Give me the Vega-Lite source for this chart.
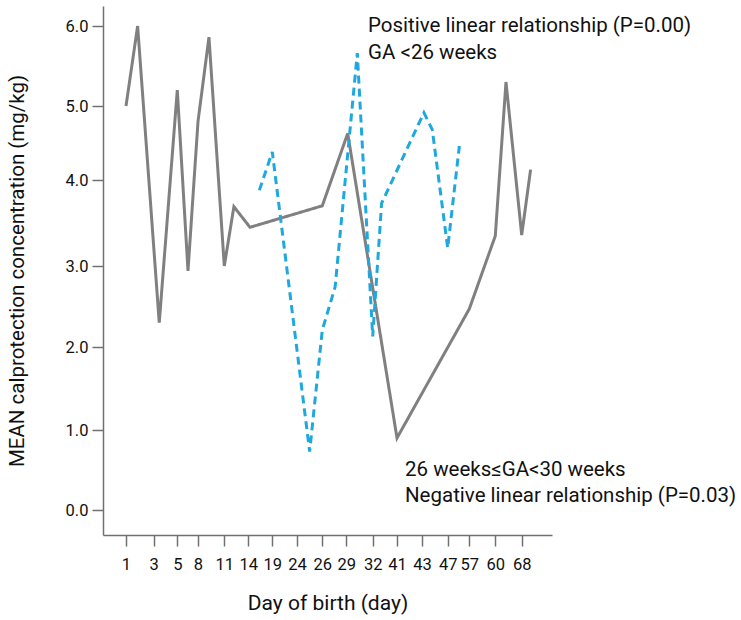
{
  "$schema": "https://vega.github.io/schema/vega-lite/v6.json",
  "width": 449,
  "height": 529,
  "autosize": {"type": "none"},
  "padding": {"left": 103, "top": 6, "right": 189, "bottom": 85},
  "config": {
    "view": {"stroke": null},
    "font": "Roboto",
    "axis": {"grid": false, "domainColor": "#707070", "tickColor": "#707070", "domainWidth": 1.5, "tickWidth": 1.5, "labelColor": "#111", "titleColor": "#111", "labelFont": "Roboto", "titleFont": "Roboto", "titleFontWeight": "normal"}
  },
  "datasets": {
    "series": [
      {"group": "26 weeks≤GA<30 weeks", "day": 1, "value": 5.0},
      {"group": "26 weeks≤GA<30 weeks", "day": 1.84, "value": 6.0},
      {"group": "26 weeks≤GA<30 weeks", "day": 3.47, "value": 2.3},
      {"group": "26 weeks≤GA<30 weeks", "day": 5.0, "value": 5.2},
      {"group": "26 weeks≤GA<30 weeks", "day": 6.55, "value": 2.94},
      {"group": "26 weeks≤GA<30 weeks", "day": 8, "value": 4.79},
      {"group": "26 weeks≤GA<30 weeks", "day": 9.25, "value": 5.86},
      {"group": "26 weeks≤GA<30 weeks", "day": 11, "value": 3.0},
      {"group": "26 weeks≤GA<30 weeks", "day": 12.2, "value": 3.69},
      {"group": "26 weeks≤GA<30 weeks", "day": 14.35, "value": 3.45},
      {"group": "26 weeks≤GA<30 weeks", "day": 26, "value": 3.7},
      {"group": "26 weeks≤GA<30 weeks", "day": 29.16, "value": 4.63},
      {"group": "26 weeks≤GA<30 weeks", "day": 41, "value": 0.9},
      {"group": "26 weeks≤GA<30 weeks", "day": 57, "value": 2.47},
      {"group": "26 weeks≤GA<30 weeks", "day": 60, "value": 3.35},
      {"group": "26 weeks≤GA<30 weeks", "day": 63.24, "value": 5.3},
      {"group": "26 weeks≤GA<30 weeks", "day": 68, "value": 3.36},
      {"group": "26 weeks≤GA<30 weeks", "day": 70.7, "value": 4.14},
      {"group": "GA <26 weeks", "day": 16.3, "value": 3.88},
      {"group": "GA <26 weeks", "day": 19, "value": 4.38},
      {"group": "GA <26 weeks", "day": 25, "value": 0.73},
      {"group": "GA <26 weeks", "day": 26, "value": 2.21},
      {"group": "GA <26 weeks", "day": 27.6, "value": 2.74},
      {"group": "GA <26 weeks", "day": 30.25, "value": 5.66},
      {"group": "GA <26 weeks", "day": 32, "value": 2.13},
      {"group": "GA <26 weeks", "day": 35.3, "value": 3.73},
      {"group": "GA <26 weeks", "day": 43.3, "value": 4.91},
      {"group": "GA <26 weeks", "day": 44.6, "value": 4.68},
      {"group": "GA <26 weeks", "day": 47, "value": 3.21},
      {"group": "GA <26 weeks", "day": 52.4, "value": 4.46}
    ],
    "notes": [
      {"day": 31.47, "value": 5.93, "label": "Positive linear relationship (P=0.00)"},
      {"day": 31.47, "value": 5.59, "label": "GA <26 weeks"},
      {"day": 41.64, "value": 0.42, "label": "26 weeks≤GA<30 weeks"},
      {"day": 41.64, "value": 0.1, "label": "Negative linear relationship (P=0.03)"}
    ]
  },
  "layer": [
    {
      "data": {"name": "series"},
      "mark": {"type": "line", "strokeWidth": 3},
      "encoding": {
        "x": {
          "field": "day", "type": "quantitative",
          "scale": {"domain": [-0.66, 1, 3, 5, 8, 11, 14, 19, 24, 26, 29, 32, 41, 43, 47, 57, 60, 68, 77.2], "range": [0, 23, 50.7, 74.3, 95, 121.3, 145.3, 169.3, 194, 219.3, 243.3, 269.7, 294, 319, 344.7, 366.3, 392.3, 418.7, 449], "nice": false, "zero": false},
          "axis": {"values": [1, 3, 5, 8, 11, 14, 19, 24, 26, 29, 32, 41, 43, 47, 57, 60, 68], "tickCount": 40, "format": "d", "title": "Day of birth (day)", "tickSize": 11, "labelPadding": 10, "labelFontSize": 16.5, "titleFontSize": 21, "titlePadding": 20, "labelOverlap": false}
        },
        "y": {
          "field": "value", "type": "quantitative",
          "scale": {"domain": [-0.3125, 0, 1, 2, 3, 4, 5, 6, 6.25], "range": [529, 504, 424, 341, 260, 174, 100, 20, 0], "nice": false, "zero": false},
          "axis": {"values": [0, 1, 2, 3, 4, 5, 6], "tickCount": 20, "format": ".1f", "title": "MEAN calprotection concentration (mg/kg)", "tickSize": 11, "labelPadding": 4, "labelFontSize": 16.5, "titleFontSize": 20.5, "titlePadding": 38}
        },
        "color": {"field": "group", "type": "nominal", "scale": {"domain": ["26 weeks≤GA<30 weeks", "GA <26 weeks"], "range": ["#808080", "#1EA8DE"]}, "legend": null},
        "strokeDash": {"field": "group", "type": "nominal", "scale": {"domain": ["26 weeks≤GA<30 weeks", "GA <26 weeks"], "range": [[1, 0], [8, 5]]}, "legend": null},
        "strokeWidth": {"field": "group", "type": "nominal", "scale": {"domain": ["26 weeks≤GA<30 weeks", "GA <26 weeks"], "range": [3.2, 2.4]}, "legend": null}
      }
    },
    {
      "data": {"name": "notes"},
      "mark": {"type": "text", "align": "left", "baseline": "alphabetic", "fontSize": 20.5, "color": "#111", "font": "Roboto"},
      "encoding": {
        "x": {"field": "day", "type": "quantitative"},
        "y": {"field": "value", "type": "quantitative"},
        "text": {"field": "label"}
      }
    }
  ]
}
